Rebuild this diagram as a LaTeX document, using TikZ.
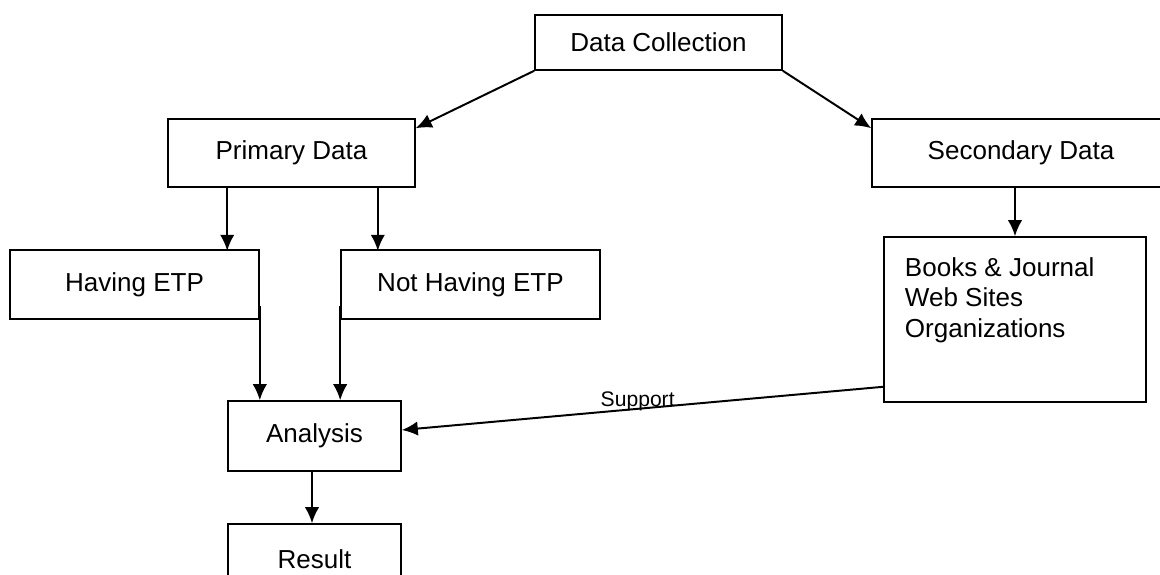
\documentclass[tikz,border=0pt]{standalone}
\usepackage{fontspec}
\setmainfont{Liberation Sans}
\usepackage{tikz}
\usetikzlibrary{shapes, arrows.meta, positioning}
\tikzstyle{block} = [draw, fill=white, rectangle, line width=1.1pt]

\begin{document}
\begin{tikzpicture}[x=0.025cm, y=-0.025cm, >={Latex[length=4mm, width=3.6mm]}, line width=1.4pt,
    font=\fontsize{18.5}{22}\selectfont]
    \clip (0,0) rectangle (1160,574);
    \node[block, minimum width=6.175cm, minimum height=1.375cm] (dc) at (658.5,42.5) {Data Collection};
    \node[block, minimum width=6.175cm, minimum height=1.7cm] (pd) at (291.5,153) {Primary Data};
    \node[block, minimum width=7.45cm, minimum height=1.7cm] (sd) at (1021,153) {Secondary Data};
    \node[block, minimum width=6.225cm, minimum height=1.725cm] (het) at (134.5,284.5) {Having ETP};
    \node[block, minimum width=6.475cm, minimum height=1.725cm] (nhet) at (470.5,284.5) {Not Having ETP};
    \node[block, minimum width=6.55cm, minimum height=4.125cm] (src) at (1015,319.5) {};
    \node[anchor=north west, align=left, inner sep=0pt] (srctext) at ([xshift=0.52cm, yshift=-0.5cm]src.north west)
        {Books \& Journal\\Web Sites\\Organizations};
    \node[block, minimum width=4.325cm, minimum height=1.75cm] (an) at (314.5,436) {Analysis};
    \node[block, minimum width=4.325cm, minimum height=1.75cm] (res) at (314.5,559) {Result};
    \draw[->] (dc.south west) -- ([yshift=-0.25cm]pd.north east);
    \draw[->] (dc.south east) -- ([yshift=-0.25cm]sd.north west);
    \draw[->] ([xshift=1.5cm]pd.south west) -- ++(0,63);
    \draw[->] ([xshift=-0.95cm]pd.south east) -- ++(0,63);
    \draw[->] (sd.south -| src.north) -- (src.north);
    \draw[->] ([yshift=0.35cm]het.south east) -- (het.south east |- an.north);
    \draw[->] ([yshift=0.35cm]nhet.south west) -- (nhet.south west |- an.north);
    \draw[->] ([yshift=0.4cm]src.south west) -- node[pos=0.51, anchor=base, yshift=0.06cm, inner sep=0pt,
        font=\fontsize{15}{17}\selectfont] (sup) {Support} ([yshift=0.15cm]an.east);
    \draw[->] ([xshift=-0.0625cm]an.south) -- ([xshift=-0.0625cm]res.north);
\end{tikzpicture}
\end{document}
